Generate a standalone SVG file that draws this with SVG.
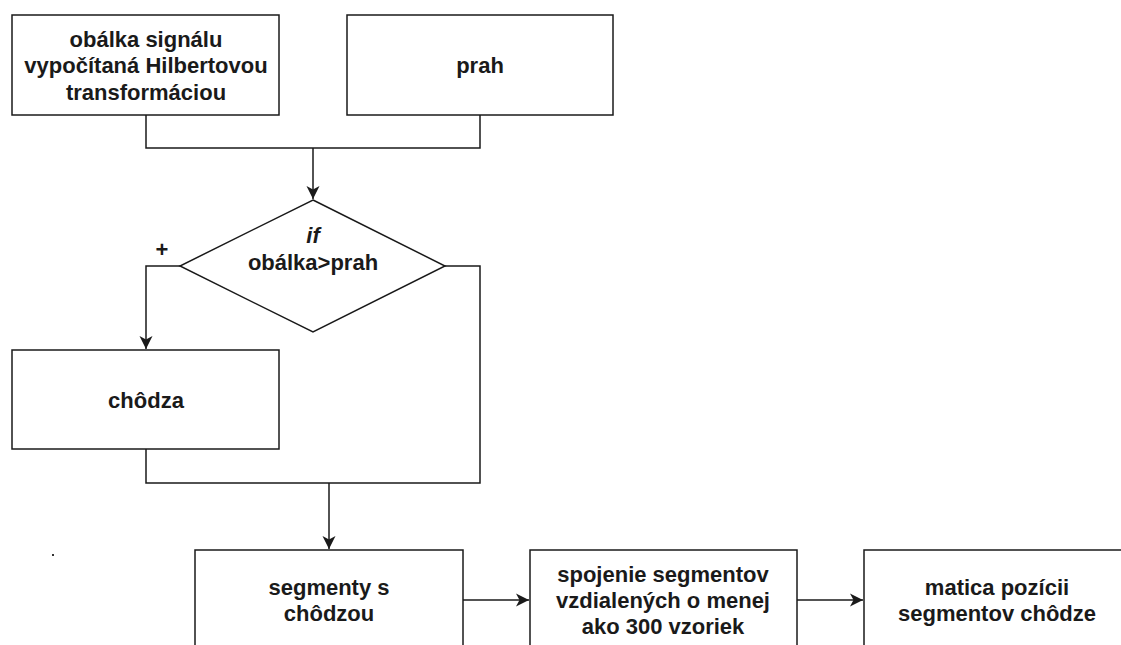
<svg xmlns="http://www.w3.org/2000/svg" width="1121" height="645" viewBox="0 0 1121 645">
<defs>
<style>
.box{fill:#fff;stroke:#1a1a1a;stroke-width:1.5}
.ln{fill:none;stroke:#1a1a1a;stroke-width:1.5}
.t{font-family:"Liberation Sans",Arial,sans-serif;font-size:22px;font-weight:bold;fill:#1a1a1a;text-anchor:middle}
</style>
<marker id="arr" markerUnits="userSpaceOnUse" markerWidth="16" markerHeight="16" viewBox="-14 -8 16 16" refX="0" refY="0" orient="auto">
<path d="M0,0 L-13,-6.5 L-9.5,0 L-13,6.5 Z" fill="#1a1a1a"/>
</marker>
</defs>
<rect width="1121" height="645" fill="#fff"/>
<g id="connectors">
<path class="ln" d="M146,115 V148 H480 V115"/>
<path class="ln" d="M313,148 V199" marker-end="url(#arr)"/>
<path class="ln" d="M180,266 H146 V349" marker-end="url(#arr)"/>
<path class="ln" d="M445,266 H480 V483 H146 V449"/>
<path class="ln" d="M329,483 V549" marker-end="url(#arr)"/>
<path class="ln" d="M463,600 H529" marker-end="url(#arr)"/>
<path class="ln" d="M797,600 H863" marker-end="url(#arr)"/>
<text class="t" x="162" y="257">+</text>
</g>
<g id="obalka">
<rect class="box" x="12" y="15" width="267" height="100"/>
<text class="t" x="146" y="47">obálka signálu</text>
<text class="t" x="146" y="73">vypočítaná Hilbertovou</text>
<text class="t" x="146" y="100">transformáciou</text>
</g>
<g id="prah">
<rect class="box" x="347" y="15" width="266" height="100"/>
<text class="t" x="480" y="73">prah</text>
</g>
<g id="if">
<path class="box" d="M313,200 L445,266 L313,332 L180,266 Z"/>
<text class="t" x="313" y="243" font-style="italic">if</text>
<text class="t" x="313" y="270">obálka&gt;prah</text>
</g>
<g id="chodza">
<rect class="box" x="12" y="350" width="267" height="99"/>
<text class="t" x="146" y="408">chôdza</text>
</g>
<g id="segmenty">
<rect class="box" x="195" y="550" width="268" height="100"/>
<text class="t" x="329" y="595">segmenty s</text>
<text class="t" x="329" y="621">chôdzou</text>
</g>
<g id="spojenie">
<rect class="box" x="530" y="550" width="267" height="100"/>
<text class="t" x="663" y="582">spojenie segmentov</text>
<text class="t" x="663" y="608">vzdialených o menej</text>
<text class="t" x="663" y="634">ako 300 vzoriek</text>
</g>
<g id="matica">
<rect class="box" x="864" y="550" width="267" height="100"/>
<text class="t" x="997" y="595">matica pozícii</text>
<text class="t" x="997" y="621">segmentov chôdze</text>
</g>
<rect x="52" y="554" width="2" height="2" fill="#333"/>
</svg>
